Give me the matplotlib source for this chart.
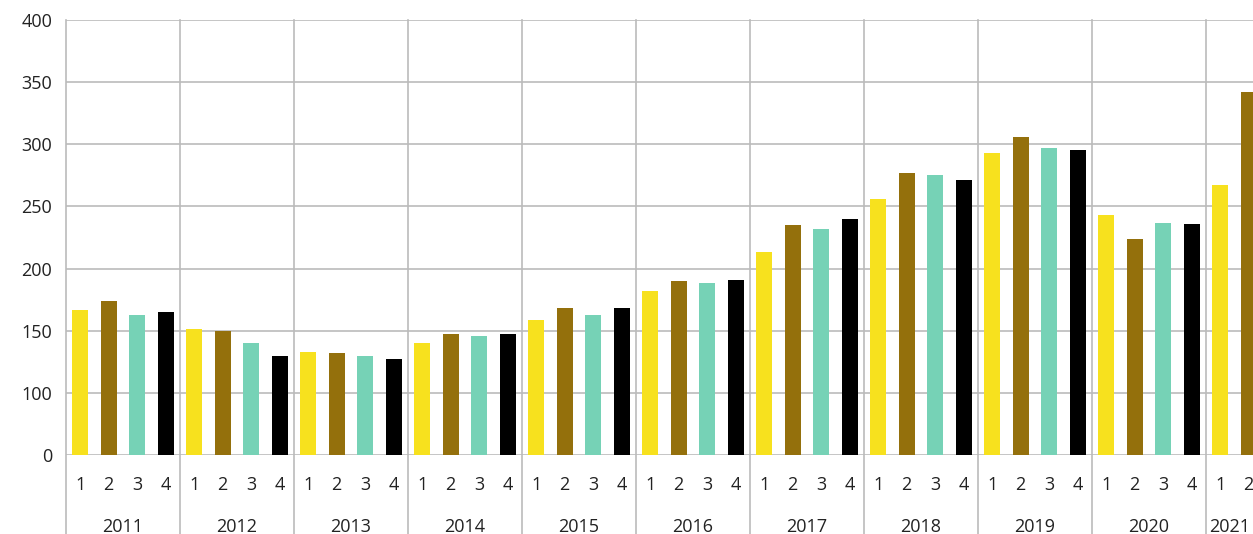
import numpy as np
import matplotlib.pyplot as plt
from matplotlib.lines import Line2D

plt.rcParams['font.family'] = ['Open Sans', 'DejaVu Sans']

years = ['2011', '2012', '2013', '2014', '2015', '2016', '2017', '2018', '2019', '2020', '2021']
quarters = ['1', '2', '3', '4']
q1 = [167, 151, 133, 140, 159, 182, 213, 256, 293, 243, 267]
q2 = [174, 150, 132, 147, 168, 190, 235, 277, 306, 224, 342]
q3 = [163, 140, 130, 146, 163, 188, 232, 275, 297, 237]
q4 = [165, 130, 127, 147, 168, 191, 240, 271, 295, 236]
colors = ['#F7E11E', '#94700C', '#76D2B6', '#000000']
yticks = [50, 100, 150, 200, 250, 300, 350, 400]
ytick_labels = ['0', '100', '150', '200', '250', '300', '350', '400']

fig = plt.figure(figsize=(12.53, 5.34), dpi=100)
ax = fig.add_axes([66/1253, 79/534, 1 - 66/1253, 435/534])

grid_c = '#BBBBBB'
for qi, vals in enumerate([q1, q2, q3, q4]):
    x = np.arange(len(vals)) * 4 + qi + 0.5
    ax.bar(x, vals, width=0.56, color=colors[qi], zorder=3)

xmax = (1253 - 66) / 28.5
ax.set_xlim(0, xmax)
ax.set_ylim(50, 400)
ax.set_yticks(yticks)
ax.set_yticklabels(ytick_labels, fontsize=13, color='#222222')
ax.set_xticks([])
ax.tick_params(axis='y', length=0, pad=10)
ax.yaxis.grid(True, color=grid_c, linewidth=1.2, zorder=0)
for s in ['right', 'bottom', 'top']:
    ax.spines[s].set_visible(False)
ax.spines['left'].set_visible(False)

trans = ax.get_xaxis_transform()
for i in range(len(years) + 1):
    xb = i * 4
    if xb > xmax:
        break
    ax.add_line(Line2D([xb, xb], [-0.2, 1], transform=trans, color=grid_c,
                       linewidth=1.2, clip_on=False, zorder=1))

for i, yr in enumerate(years):
    for qi, q in enumerate(quarters):
        xq = i * 4 + qi + 0.5
        if xq < xmax:
            ax.text(xq, -0.069, q, transform=trans, ha='center', va='center',
                    fontsize=13, color='#222222')
    xc = (i * 4 + min(i * 4 + 4, xmax)) / 2
    ax.text(xc, -0.1655, yr, transform=trans, ha='center', va='center',
            fontsize=13, color='#222222')

fig.savefig('out.png', dpi=100)
